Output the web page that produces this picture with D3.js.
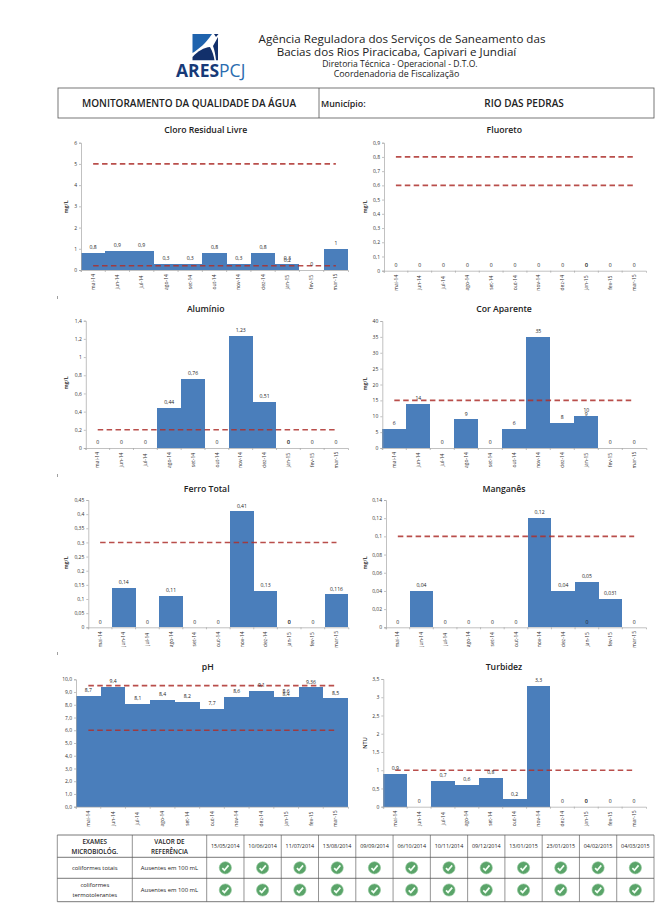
<!DOCTYPE html>
<html lang="pt">
<head>
<meta charset="utf-8">
<title>Monitoramento da Qualidade da Água</title>
<script src="https://cdn.jsdelivr.net/npm/d3@7/dist/d3.min.js"></script>
<style>
html,body{margin:0;padding:0;background:#fff}
svg{display:block}
text{font-family:"Open Sans","Noto Sans",sans-serif;fill:#222}
</style>
</head>
<body>
<div id="chart"></div>
<script>
const months = ["mai-14","jun-14","jul-14","ago-14","set-14","out-14","nov-14","dez-14","jan-15","fev-15","mar-15"];
const sampleMonths = ["mai-14","jun-14","jul-14","ago-14","set-14","out-14","nov-14","dez-14","jan-15","jan-15","fev-15","mar-15"];
const cloroValues = [0.8,0.9,0.9,0.3,0.3,0.8,0.3,0.8,0.3,0.2,0,1];
const fluoretoValues = [0,0,0,0,0,0,0,0,0,0,0,0];
const aluminioValues = [0,0,0,0.44,0.76,0,1.23,0.51,0,0,0,0];
const corValues = [6,14,0,9,0,6,35,8,10,9,0,0];
const ferroValues = [0,0.14,0,0.11,0,0,0.41,0.13,0,0,0,0.116];
const manganesValues = [0,0.04,0,0,0,0,0.12,0.04,0.05,0,0.031,0];
const phValues = [8.7,9.4,8.1,8.4,8.2,7.7,8.6,9.1,8.6,8.4,9.36,8.5];
const turbidezValues = [0.9,0,0.7,0.6,0.8,0.2,3.3,0,0,0,0,0];
const cloroLimits = [5,0.2], fluoretoLimits = [0.8,0.6], aluminioLimits = [0.2], corLimits = [15];
const ferroLimits = [0.3], manganesLimits = [0.1], phLimits = [9.5,6], turbidezLimits = [1];
const cloroTicks = [0,1,2,3,4,5,6];
const fluoretoTicks = [0,0.1,0.2,0.3,0.4,0.5,0.6,0.7,0.8,0.9];
const aluminioTicks = [0,0.2,0.4,0.6,0.8,1,1.2,1.4];
const corTicks = [0,5,10,15,20,25,30,35,40];
const ferroTicks = [0,0.05,0.1,0.15,0.2,0.25,0.3,0.35,0.4,0.45];
const manganesTicks = [0,0.02,0.04,0.06,0.08,0.1,0.12,0.14];
const phTicks = [0,1,2,3,4,5,6,7,8,9,10];
const turbidezTicks = [0,0.5,1,1.5,2,2.5,3,3.5];
const sampleDates = ["15/05/2014","10/06/2014","11/07/2014","13/08/2014","09/09/2014","06/10/2014","10/11/2014","09/12/2014","13/01/2015","23/01/2015","04/02/2015","04/03/2015"];
const examRows = [
  {name:["coliformes totais"], ref:"Ausentes em 100 mL"},
  {name:["coliformes","termotolerantes"], ref:"Ausentes em 100 mL"}
];

const panels = [
 {title:"Cloro Residual Livre",unit:"mg/L",v:cloroValues,lim:cloroLimits,t:cloroTicks,l:81,r:348,b:270,h:142.7,tx:205.7,ty:130,ux:68,uy:207},
 {title:"Fluoreto",unit:"mg/L",v:fluoretoValues,lim:fluoretoLimits,t:fluoretoTicks,l:384,r:646,b:270.7,h:142.7,tx:504.3,ty:130,ux:367,uy:207},
 {title:"Alumínio",unit:"mg/L",v:aluminioValues,lim:aluminioLimits,t:aluminioTicks,l:85.8,r:348,b:448,h:320.7,tx:205.7,ty:308.7,ux:68,uy:383},
 {title:"Cor Aparente",unit:"mg/L",v:corValues,lim:corLimits,t:corTicks,l:382.3,r:646.3,b:448,h:321,tx:504,ty:308.7,ux:367,uy:384},
 {title:"Ferro Total",unit:"mg/L",v:ferroValues,lim:ferroLimits,t:ferroTicks,l:88.3,r:348.3,b:627.3,h:500,tx:206.7,ty:489,ux:68,uy:563},
 {title:"Manganês",unit:"mg/L",v:manganesValues,lim:manganesLimits,t:manganesTicks,l:386,r:646,b:627.3,h:500,tx:504,ty:489,ux:367,uy:563},
 {title:"pH",unit:"",v:phValues,lim:phLimits,t:phTicks,l:76,r:348,b:806.7,h:679.3,tx:207.7,ty:667,ux:0,uy:0,fixed:true},
 {title:"Turbidez",unit:"NTU",v:turbidezValues,lim:turbidezLimits,t:turbidezTicks,l:383.3,r:646,b:806.7,h:679,tx:504,ty:667,ux:367,uy:743}
];

const svg = d3.select("#chart").append("svg").attr("width",656).attr("height",904).attr("viewBox","0 0 656 904");
svg.append("rect").attr("width",656).attr("height",904).attr("fill","#fff");
const comma = s => String(s).replace(".",",");

/* ---------- letterhead ---------- */
const logo = svg.append("g");
logo.append("path").attr("d","M192.5 34H212C206 43 199 49 192.5 53Z").attr("fill","#1f63ad");
logo.append("path").attr("d","M213 46L218 37V60.3H216C215.5 55 214.5 50 213 46Z").attr("fill","#12306b");
logo.append("path").attr("d","M214 34H218.5L216 37Z").attr("fill","#12306b");
logo.append("path").attr("d","M192.5 60.3V57C198 51 204 47.5 210 47C212.5 51 213.8 56 214.5 60.3Z").attr("fill","#12306b");
svg.append("text").attr("x",176).attr("y",76.5).attr("font-size",17.5).attr("font-weight",700).style("fill","#173a78").text("ARES")
  .append("tspan").attr("font-weight",400).style("fill","#2b6cb0").text("PCJ");
const heading = [
 {s:"Agência Reguladora dos Serviços de Saneamento das",x:402,y:43,f:11.6},
 {s:"Bacias dos Rios Piracicaba, Capivari e Jundiaí",x:396.5,y:56,f:11.6},
 {s:"Diretoria Técnica - Operacional - D.T.O.",x:400,y:67,f:8.6},
 {s:"Coordenadoria de Fiscalização",x:396.5,y:77,f:8.9}];
svg.selectAll("text.head").data(heading).join("text").attr("class","head")
  .attr("x",d=>d.x).attr("y",d=>d.y).attr("font-size",d=>d.f).attr("text-anchor","middle").text(d=>d.s);

svg.append("rect").attr("x",58).attr("y",88).attr("width",596).attr("height",30).attr("fill","none").attr("stroke","#555").attr("stroke-width",.8);
svg.append("line").attr("x1",319).attr("x2",319).attr("y1",88).attr("y2",118).attr("stroke","#555").attr("stroke-width",.8);
svg.append("text").attr("x",189).attr("y",107).attr("text-anchor","middle").attr("font-size",10).attr("font-weight",600).text("MONITORAMENTO DA QUALIDADE DA ÁGUA");
svg.append("text").attr("x",321).attr("y",107).attr("font-size",8.9).attr("font-weight",600).text("Município:");
svg.append("text").attr("x",524).attr("y",107).attr("text-anchor","middle").attr("font-size",10).attr("font-weight",600).text("RIO DAS PEDRAS");

/* ---------- panels ---------- */
panels.forEach(p => {
  const x = d3.scaleBand().domain(months).range([p.l,p.r]).padding(0);
  const y = d3.scaleLinear().domain([0,d3.max(p.t)]).range([p.b,p.h]);
  const g = svg.append("g");
  const samples = p.v.map((v,i)=>({v,m:sampleMonths[i]}));

  g.append("text").attr("x",p.tx).attr("y",p.ty+3.2).attr("text-anchor","middle")
    .attr("font-size",8.7).attr("font-weight",600).text(p.title);

  g.selectAll("rect.bar").data(samples).join("rect").attr("class","bar")
    .attr("x",d=>x(d.m)).attr("width",x.bandwidth())
    .attr("y",d=>y(d.v)).attr("height",d=>p.b-y(d.v)).attr("fill","#4a7ebb")
    .attr("shape-rendering","crispEdges");

  const yAxis = d3.axisLeft(y).tickValues(p.t).tickSize(2).tickPadding(2)
    .tickFormat(d => p.fixed ? comma(d.toFixed(1)) : comma(d));
  const ya = g.append("g").attr("transform",`translate(${p.l},0)`).call(yAxis);
  const xAxis = d3.axisBottom(x).tickSize(2).tickPadding(2).tickFormat(d=>d);
  const xa = g.append("g").attr("transform",`translate(0,${p.b})`).call(xAxis);
  [ya,xa].forEach(a=>{
    a.selectAll("path,line").attr("stroke","#a6a6a6").attr("stroke-width",.7);
    a.selectAll("text").attr("font-size",5).attr("font-family",null).style("fill","#333");
  });
  xa.selectAll(".tick line").attr("x1",-x.step()/2).attr("x2",-x.step()/2);
  xa.selectAll(".tick text").attr("transform","translate(0,12) rotate(-90)")
    .attr("x",0).attr("y",0).attr("dy","0.32em").attr("text-anchor","middle");

  if (p.unit) {
    g.append("text").attr("transform",`translate(${p.ux},${p.uy}) rotate(-90)`)
      .attr("text-anchor","middle").attr("font-size",5.4).attr("font-weight",600).text(p.unit);
  }

  const line = d3.line().x(d=>x(d)+x.bandwidth()/2);
  p.lim.forEach(lim => {
    const path = line.y(()=>y(lim))(months);
    g.append("path").attr("d",path).attr("fill","none").attr("stroke","#ad2f2c").attr("stroke-width",1.6)
      .attr("stroke-dasharray","5.5 3.4").attr("opacity",.85);
  });

  g.selectAll("text.val").data(samples).join("text").attr("class","val")
    .attr("x",d=>x(d.m)+x.bandwidth()/2).attr("y",d=>y(d.v)-3.8)
    .attr("text-anchor","middle").attr("font-size",5.1).text(d=>comma(d.v));
});

/* small page marks on the left margin */
const marginMarks = [296,474,652];
svg.selectAll("line.mark").data(marginMarks).join("line").attr("class","mark")
  .attr("x1",57.5).attr("x2",57.5).attr("y1",d=>d).attr("y2",d=>d+3).attr("stroke","#777").attr("stroke-width",.7);

/* ---------- microbiology table ---------- */
const xDate = d3.scaleBand().domain(sampleDates).range([206.7,654]);
const rowY = [835,857.3,878.3,901.7];
const tbl = svg.append("g");
const colEdges = [57.3,132.3,...sampleDates.map(d=>xDate(d)),654];
tbl.selectAll("line.v").data(colEdges).join("line").attr("class","v")
  .attr("x1",d=>d).attr("x2",d=>d).attr("y1",rowY[0]).attr("y2",rowY[3]).attr("stroke","#666").attr("stroke-width",.7);
tbl.selectAll("line.h").data(rowY).join("line").attr("class","h")
  .attr("x1",57.3).attr("x2",654).attr("y1",d=>d).attr("y2",d=>d).attr("stroke","#555").attr("stroke-width",.8);

const hdr = [
 {s:"EXAMES",x:94.8,y:844},{s:"MICROBIOLÓG.",x:94.8,y:854},
 {s:"VALOR DE",x:169.5,y:844},{s:"REFERÊNCIA",x:169.5,y:854}];
tbl.selectAll("text.hdr").data(hdr).join("text").attr("class","hdr")
  .attr("x",d=>d.x).attr("y",d=>d.y).attr("text-anchor","middle").attr("font-size",6.3).attr("font-weight",600).text(d=>d.s);
tbl.selectAll("text.date").data(sampleDates).join("text").attr("class","date")
  .attr("x",d=>xDate(d)+xDate.bandwidth()/2).attr("y",848).attr("text-anchor","middle").attr("font-size",5.4).text(d=>d);

examRows.forEach((row,i)=>{
  const cy = (rowY[i+1]+rowY[i+2])/2;
  const n = row.name.length;
  row.name.forEach((s,k)=>{
    tbl.append("text").attr("x",94.8).attr("y",cy+2+(k-(n-1)/2)*10).attr("text-anchor","middle").attr("font-size",5.9).attr("font-weight",500).text(s);
  });
  tbl.append("text").attr("x",169.5).attr("y",cy+2).attr("text-anchor","middle").attr("font-size",5.9).attr("font-weight",500).text(row.ref);
  sampleDates.forEach(d=>{
    const c = tbl.append("g").attr("transform",`translate(${xDate(d)+xDate.bandwidth()/2},${cy})`);
    c.append("circle").attr("r",6.1).attr("fill","#5aa469").attr("stroke","#8cc497").attr("stroke-width",.6);
    c.append("path").attr("d","M-3 0.3L-0.9 2.4L3.2 -2.4").attr("fill","none").attr("stroke","#f2fff4").attr("stroke-width",1.7);
  });
});
</script>
</body>
</html>
